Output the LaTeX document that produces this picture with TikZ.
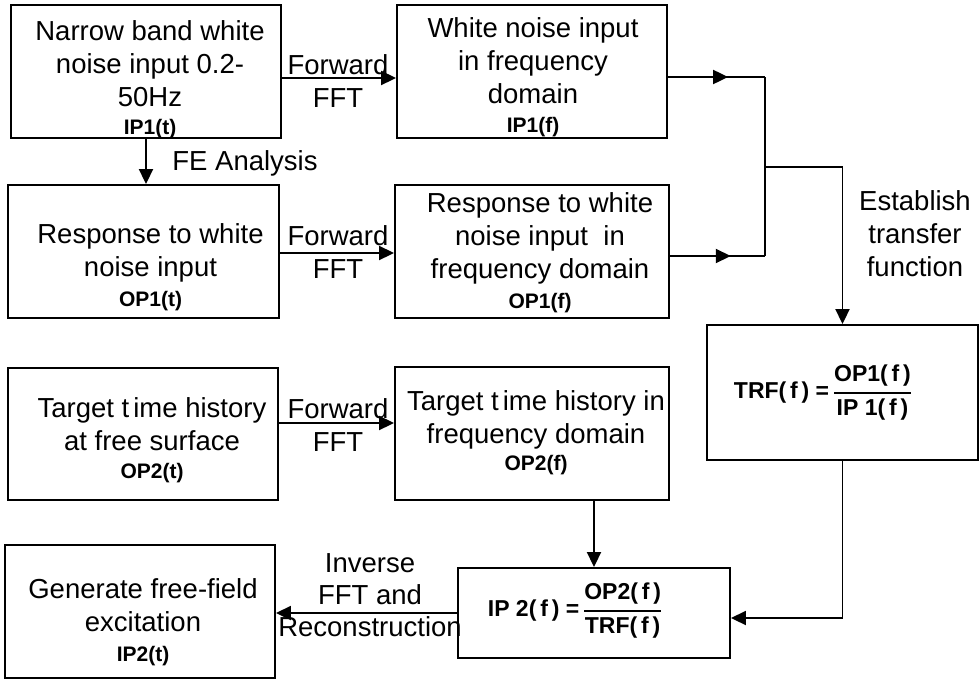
\documentclass[tikz,border=0pt]{standalone}
\usepackage{fontspec}
\setmainfont{Liberation Sans}
\usepackage{amsmath}
\usetikzlibrary{arrows.meta,calc,decorations.markings}
\newcommand\boldlbl[1]{{\fontsize{21}{25}\selectfont\bfseries #1}}
\begin{document}
\begin{tikzpicture}[x=1pt,y=-1pt,
  box/.style={draw, line width=1.9pt, inner sep=0pt},
  txt/.style={align=center, inner sep=0pt, font=\fontsize{27.5}{33}\selectfont},
  frm/.style={inner sep=0pt, font=\fontsize{23}{27}\selectfont\bfseries},
  arr/.style={line width=1.9pt, -{Triangle[length=15pt,width=14pt]}},
  ln/.style={line width=1.9pt},
  midarr/.style={line width=1.9pt, postaction={decorate},
    decoration={markings, mark=at position #1 with {\arrow{Triangle[length=15pt,width=14pt]}}}}
]
\useasboundingbox (0,0) rectangle (980,681);

% boxes
\node[box, minimum width=270pt, minimum height=133pt] (b1) at (146,71.5) {};
\node[box, minimum width=270pt, minimum height=133pt] (b2) at (532,71.5) {};
\node[box, minimum width=271pt, minimum height=133pt] (b3) at (143.5,251.5) {};
\node[box, minimum width=274pt, minimum height=133pt] (b4) at (532,251.5) {};
\node[box, minimum width=270pt, minimum height=132pt] (b5) at (143,434) {};
\node[box, minimum width=274pt, minimum height=133pt] (b6) at (532,433.5) {};
\node[box, minimum width=271pt, minimum height=135pt] (trf) at (842.5,392.5) {};
\node[box, minimum width=270pt, minimum height=133pt] (b8) at (140,611.5) {};
\node[box, minimum width=272pt, minimum height=90pt] (ip2) at (594,613) {};

% box texts
\node[txt] (t1) at (150,79.5) {Narrow band white\\noise input 0.2-\\50Hz\\[-5pt]\boldlbl{IP1(t)}};
\node[txt] (t2) at (533,77) {White noise input\\in frequency\\domain\\[-4pt]\boldlbl{IP1(f)}};
\node[txt] (t3) at (150.5,267.5) {Response to white\\noise input\\[-3pt]\boldlbl{OP1(t)}};
\node[txt] (t4) at (540,252.5) {Response to white\\noise input\ \ in\\frequency domain\\[-3pt]\boldlbl{OP1(f)}};
\node[txt] (t5) at (152,440) {Target t\kern4pt ime history\\at free surface\\[-5pt]\boldlbl{OP2(t)}};
\node[txt] (t6) at (536,433) {Target t\kern4pt ime history in\\frequency domain\\[-6pt]\boldlbl{OP2(f)}};
\node[txt] (t8) at (143,622) {Generate free-field\\excitation\\[-3pt]\boldlbl{IP2(t)}};

% formulas
\node[frm] (f1) at (823,393) {TRF(\,f\,) =\,$\genfrac{}{}{1.7pt}{0}{\text{OP1(\,f\,)}}{\text{IP 1(\,f\,)}}$};
\node[frm] (f2) at (575,611) {IP 2(\,f\,) =\,$\genfrac{}{}{1.7pt}{0}{\text{OP2(\,f\,)}}{\text{TRF(\,f\,)}}$};

% connector labels
\node[txt] (l1) at (338,81) {Forward\\FFT};
\node[txt] (l2) at (338,252.5) {Forward\\FFT};
\node[txt] (l3) at (338,425) {Forward\\FFT};
\node[txt] (l4) at (245,163) {FE Analysis};
\node[txt] (l5) at (915,233.5) {Establish\\transfer\\function};
\node[txt, font=\fontsize{27.5}{32}\selectfont] (l6) at (370,595) {Inverse\\FFT and\\Reconstruction};

% connectors
\coordinate (a1) at ($(b1.east)+(0,6.5)$);
\draw[arr] (a1) -- (a1 -| b2.west);
\coordinate (a2) at ($(b3.east)+(0,1.5)$);
\draw[arr] (a2) -- (a2 -| b4.west);
\coordinate (a3) at ($(b5.east)+(0,-11)$);
\draw[arr] (a3) -- (a3 -| b6.west);
\draw[arr] (b1.south) -- (b1.south |- b3.north);

\coordinate (j1) at (765,77);
\coordinate (j2) at (765,256);
\coordinate (j3) at (765,167);
\draw[midarr=0.62] (j1 -| b2.east) -- (j1);
\draw[midarr=0.64] (j2 -| b4.east) -- (j2);
\draw[ln] (j1) -- (j2);
\draw[arr] (j3) -| (trf.north);

\coordinate (k1) at ($(ip2.east)+(0,5)$);
\draw[arr] (trf.south) |- (k1);
\draw[arr] (ip2.north |- b6.south) -- (ip2.north);
\draw[arr] (ip2.west) -- (ip2.west -| b8.east);
\end{tikzpicture}
\end{document}
